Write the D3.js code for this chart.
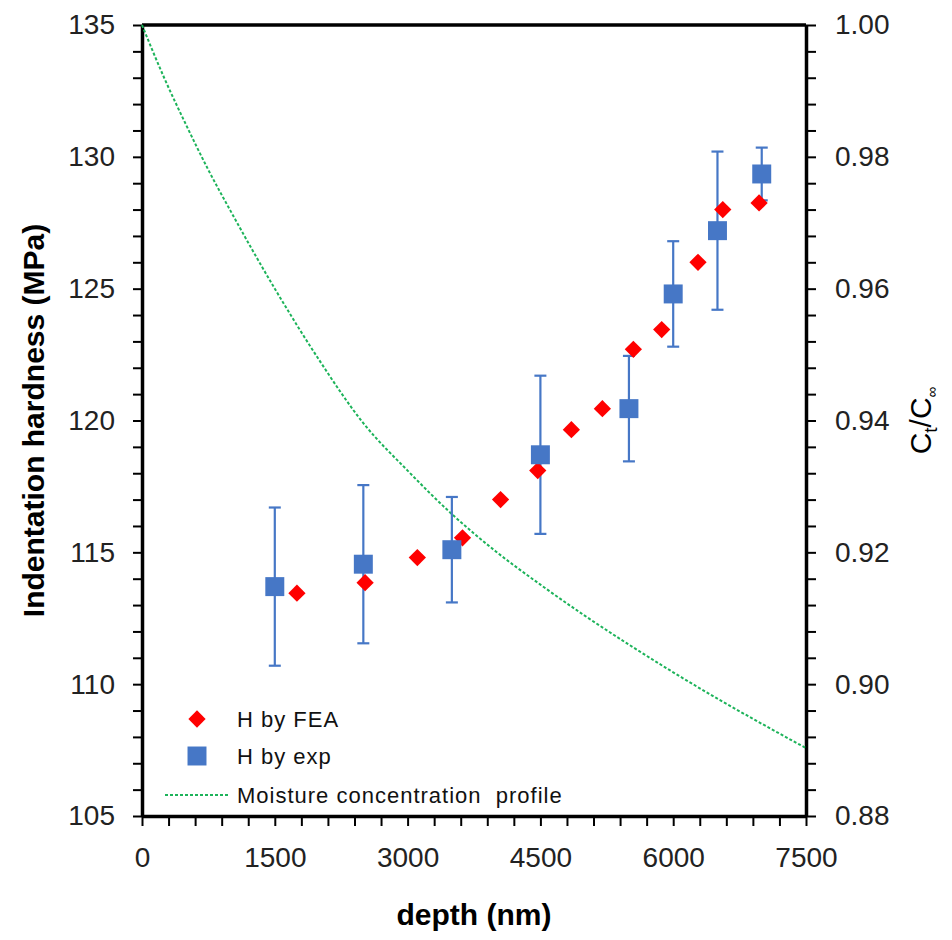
<!DOCTYPE html>
<html lang="en">
  <head>
    <title>Indentation hardness vs depth</title>
    <script type="text/javascript" src="https://d3js.org/d3.v7.min.js"></script>
    <style>
      body { margin: 0; background: #fff; }
      text { font-family: "Liberation Sans", Arial, sans-serif; }
    </style>
  </head>

  <body>
    <div id="chart"></div>

    <script>
      // experimental hardness (blue squares, with error bars)
      const expDepth = [1500, 2500, 3500, 4500, 5500, 6000, 6500, 7000];
      const expH     = [113.7, 114.55, 115.1, 118.7, 120.45, 124.8, 127.2, 129.35];
      const expErr   = [3.0, 3.0, 2.0, 3.0, 2.0, 2.0, 3.0, 1.0];

      // FEA hardness (red diamonds)
      const feaDepth = [1750, 2520, 3110, 3620, 4050, 4470, 4850, 5200, 5550, 5870, 6280, 6560, 6970];
      const feaH     = [113.45, 113.85, 114.8, 115.55, 117.0, 118.1, 119.65, 120.45, 122.7, 123.45, 126.0, 128.0, 128.25];

      // moisture concentration profile, right axis
      const moistDepth = [0, 250, 500, 750, 1000, 1500, 2000, 2500, 3000, 3500, 4000, 4500, 5000, 5500, 6000, 6500, 7000, 7500];
      const moistC     = [1.0, 0.992, 0.9848, 0.978, 0.9718, 0.96, 0.9492, 0.9396, 0.9324, 0.9258, 0.9201, 0.9151, 0.9104, 0.906, 0.9018, 0.8978, 0.894, 0.8903];

      const legendLabels = ["H by FEA", "H by exp", "Moisture concentration  profile"];

      const W = 952, H = 940;
      const margin = {top: 25, right: 146, bottom: 124, left: 142};
      const width = W - margin.left - margin.right,
            height = H - margin.top - margin.bottom;

      const blue = "#4677c6", red = "#ff0000", green = "#1db35a";

      const svg = d3.select("#chart")
        .append("svg")
          .attr("width", W)
          .attr("height", H)
          .style("background", "#fff");

      const g = svg.append("g")
          .attr("transform", "translate(" + margin.left + "," + margin.top + ")");

      const x = d3.scaleLinear().domain([0, 7500]).range([0, width]);
      const y = d3.scaleLinear().domain([105, 135]).range([height, 0]);
      const y2 = d3.scaleLinear().domain([0.88, 1.0]).range([height, 0]);

      // axes
      const xAxis = d3.axisBottom(x)
        .tickValues(d3.range(0, 7501, 300))
        .tickFormat(d => d % 1500 === 0 ? d : "")
        .tickSize(10).tickSizeOuter(0).tickPadding(21);

      const yAxis = d3.axisLeft(y)
        .tickValues(d3.range(105, 135.5, 1))
        .tickFormat(d => d % 5 === 0 ? d : "")
        .tickSize(9).tickSizeOuter(0).tickPadding(18);

      const y2Ticks = d3.range(0, 31).map(i => 0.88 + i * 0.004);
      const yAxis2 = d3.axisRight(y2)
        .tickValues(y2Ticks)
        .tickFormat((d, i) => i % 5 === 0 ? d3.format(".2f")(d) : "")
        .tickSize(10).tickSizeOuter(0).tickPadding(19);

      function styleAxis(sel) {
        sel.select(".domain").attr("stroke", "#000").attr("stroke-width", 3.5);
        sel.selectAll(".tick line").attr("stroke", "#000").attr("stroke-width", 2);
        sel.selectAll(".tick text")
          .attr("fill", "#222")
          .style("font-size", "28px");
      }

      g.append("g")
        .attr("transform", "translate(0," + height + ")")
        .call(xAxis).call(styleAxis);
      g.append("g").call(yAxis).call(styleAxis);
      g.append("g")
        .attr("transform", "translate(" + width + ",0)")
        .call(yAxis2).call(styleAxis);

      // top border
      g.append("line")
        .attr("x1", 0).attr("x2", width)
        .attr("y1", 0).attr("y2", 0)
        .attr("stroke", "#000").attr("stroke-width", 3.5);

      // moisture profile
      const line = d3.line()
        .x((d, i) => x(moistDepth[i]))
        .y(d => y2(d))
        .curve(d3.curveMonotoneX);

      g.append("path")
        .datum(moistC)
        .attr("fill", "none")
        .attr("stroke", green)
        .attr("stroke-width", 2)
        .attr("stroke-dasharray", "3,2")
        .attr("d", line);

      // error bars
      const eb = g.append("g").attr("stroke", blue).attr("stroke-width", 2.2);
      expDepth.forEach(function(d, i) {
        const cx = x(d);
        const top = y(expH[i] + expErr[i]), bot = y(expH[i] - expErr[i]);
        eb.append("line").attr("x1", cx).attr("x2", cx).attr("y1", top).attr("y2", bot);
        eb.append("line").attr("x1", cx - 6).attr("x2", cx + 6).attr("y1", top).attr("y2", top);
        eb.append("line").attr("x1", cx - 6).attr("x2", cx + 6).attr("y1", bot).attr("y2", bot);
      });

      const diamond = d3.symbol().type(d3.symbolDiamond2).size(190);
      const square = d3.symbol().type(d3.symbolSquare).size(360);

      // FEA diamonds
      g.append("g").selectAll("path")
        .data(feaDepth)
        .join("path")
          .attr("d", diamond)
          .attr("transform", (d, i) => "translate(" + x(d) + "," + y(feaH[i]) + ")")
          .attr("fill", red);

      // exp squares
      g.append("g").selectAll("path")
        .data(expDepth)
        .join("path")
          .attr("d", square)
          .attr("transform", (d, i) => "translate(" + x(d) + "," + y(expH[i]) + ")")
          .attr("fill", blue);

      // legend
      const leg = svg.append("g");
      const legY = [719, 756, 795];
      leg.append("path").attr("d", diamond)
        .attr("transform", "translate(197," + legY[0] + ")").attr("fill", red);
      leg.append("path").attr("d", square)
        .attr("transform", "translate(197," + legY[1] + ")").attr("fill", blue);
      leg.append("line")
        .attr("x1", 165).attr("x2", 229).attr("y1", legY[2]).attr("y2", legY[2])
        .attr("stroke", green).attr("stroke-width", 2).attr("stroke-dasharray", "3,2");
      leg.selectAll("text")
        .data(legendLabels)
        .join("text")
          .attr("x", 237)
          .attr("y", (d, i) => legY[i] + 8)
          .attr("fill", "#111")
          .style("font-size", "22px")
          .style("letter-spacing", "1px")
          .style("white-space", "pre")
          .text(d => d);

      // axis titles
      svg.append("text")
        .attr("x", margin.left + width / 2)
        .attr("y", 925)
        .attr("text-anchor", "middle")
        .style("font-size", "30px")
        .style("font-weight", "bold")
        .text("depth (nm)");

      svg.append("text")
        .attr("transform", "translate(44," + (margin.top + height / 2) + ") rotate(-90)")
        .attr("text-anchor", "middle")
        .style("font-size", "30px")
        .style("font-weight", "bold")
        .text("Indentation hardness (MPa)");

      const rt = svg.append("text")
        .attr("transform", "translate(931," + (margin.top + height / 2) + ") rotate(-90)")
        .attr("text-anchor", "middle")
        .style("font-size", "30px");
      rt.append("tspan").text("C");
      rt.append("tspan").attr("dy", 6).style("font-size", "19px").text("t");
      rt.append("tspan").attr("dy", -6).text("/C");
      rt.append("tspan").attr("dy", 6).style("font-size", "15px").text("∞");
    </script>
  </body>
</html>
